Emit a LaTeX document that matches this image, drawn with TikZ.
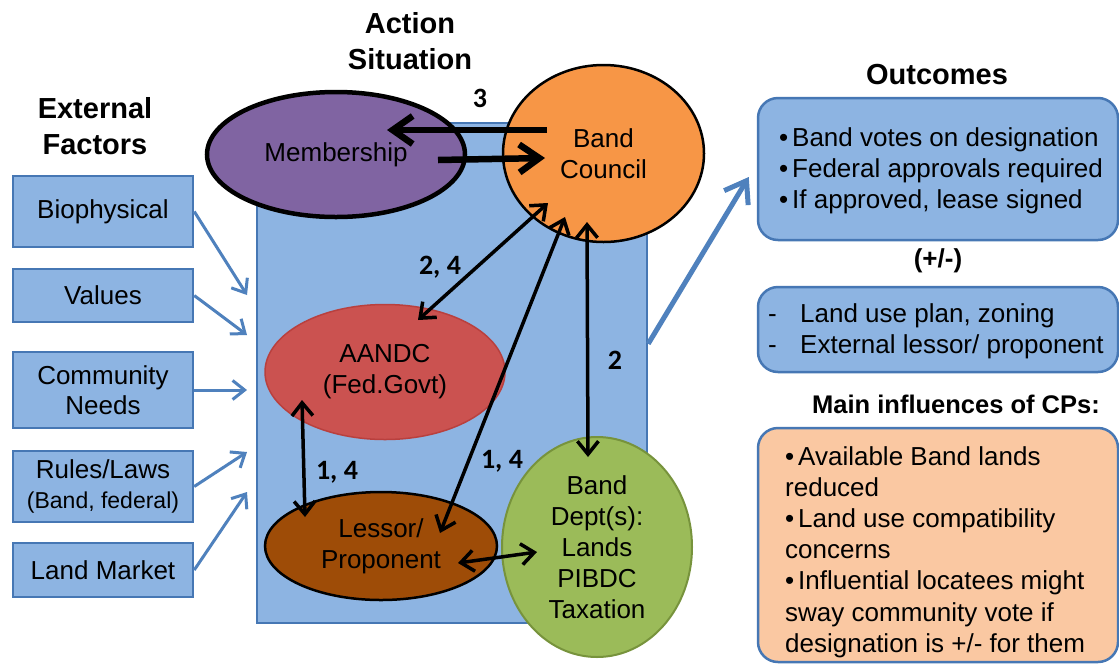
\documentclass[tikz,border=0pt]{standalone}
\usepackage{fontspec}
\setmainfont{Liberation Sans}
\newfontfamily\numfont{Carlito}
\usetikzlibrary{arrows.meta,shapes.geometric,calc}

\definecolor{panelblue}{HTML}{8DB4E2}
\definecolor{edgeblue}{HTML}{4677B4}
\definecolor{arrowblue}{HTML}{4F81BD}
\definecolor{memberpurple}{HTML}{8064A2}
\definecolor{councilorange}{HTML}{F79646}
\definecolor{fedred}{HTML}{CB5250}
\definecolor{fededge}{HTML}{B9403E}
\definecolor{lessorbrown}{HTML}{9E4C07}
\definecolor{deptgreen}{HTML}{9BBB59}
\definecolor{deptedge}{HTML}{77933C}
\definecolor{peach}{HTML}{FAC8A2}

\begin{document}
\begin{tikzpicture}[x=1pt,y=-1pt,
  txt/.style={font=\fontsize{26}{31.2}\selectfont, inner sep=0pt},
  heading/.style={font=\fontsize{29}{36}\selectfont\bfseries, align=center, inner sep=0pt},
  factor/.style={draw=edgeblue, line width=2.5pt, fill=panelblue, minimum width=180pt,
    inner sep=0pt, align=center, font=\fontsize{26}{30}\selectfont},
  actor/.style={ellipse, inner sep=0pt, align=center, font=\fontsize{26}{31}\selectfont},
  outbox/.style={draw=edgeblue, line width=2.5pt, rounded corners=20pt, minimum width=360pt, inner sep=0pt},
  feed/.style={draw=arrowblue, line width=3pt, -{Straight Barb[length=12pt,width=19pt]}},
  result/.style={draw=arrowblue, line width=5pt, -{Straight Barb[length=20pt,width=28pt]}},
  link/.style={line width=3.5pt, {Straight Barb[length=13pt,width=21pt]}-{Straight Barb[length=13pt,width=21pt]}},
  vote/.style={line width=6.5pt, -{Straight Barb[length=20pt,width=28pt]}},
  num/.style={font=\numfont\fontsize{28}{30}\selectfont\bfseries, inner sep=0pt}
]
% canvas
\fill[white] (0,0) rectangle (1119,665);
\useasboundingbox (0,0) rectangle (1119,665);

% headings
\node[heading] (tact) at (410,41) {Action\\Situation};
\node[heading] (text) at (95,126) {External\\Factors};
\node[heading] (tout) at (937,75) {Outcomes};

% action situation panel
\node[draw=edgeblue, line width=2.5pt, fill=panelblue, minimum width=390pt,
      minimum height=500pt, inner sep=0pt] (act) at (452,373) {};

% external factors
\node[factor, minimum height=71pt] (f1) at (103,211.5) {Biophysical};
\node[factor, minimum height=53pt] (f2) at (103,295.5) {Values};
\node[factor, minimum height=76pt] (f3) at (103,390) {Community\\Needs};
\node[factor, minimum height=71pt] (f4) at (103,486.5)
  {Rules/Laws\\{\fontsize{23}{27}\selectfont (Band, federal)}};
\node[factor, minimum height=54pt] (f5) at (103,570) {Land Market};

% actors
\node[actor, draw=black, line width=4.5pt, fill=memberpurple,
      minimum width=258pt, minimum height=125pt] (mem) at (336,154.5) {Membership};
\node[actor, draw=black, line width=2.5pt, fill=councilorange,
      minimum width=201pt, minimum height=177pt] (bc) at (603.5,153.5) {Band\\Council};
\node[actor, draw=fededge, line width=1.5pt, fill=fedred,
      minimum width=240pt, minimum height=135pt] (fed) at (385,372) {AANDC\\(Fed.Govt)};
\node[actor, draw=black, line width=2.5pt, fill=lessorbrown,
      minimum width=232pt, minimum height=108pt] (les) at (381,546) {Lessor/\\Proponent};
\node[actor, draw=deptedge, line width=2pt, fill=deptgreen,
      minimum width=190pt, minimum height=220pt] (dept) at (597,547)
  {Band\\Dept(s):\\Lands\\PIBDC\\Taxation};

% outcome boxes
\node[outbox, fill=panelblue, minimum height=142pt] (o1) at (938,169) {};
\node[outbox, fill=panelblue, minimum height=85pt] (o2) at (938,329.5) {};
\node[outbox, fill=peach, minimum height=234pt] (o3) at (938,545) {};

\node[txt, align=left, anchor=west] (o1t) at (779,171)
  {\makebox[13pt][l]{•}Band votes on designation\\
   \makebox[13pt][l]{•}Federal approvals required\\
   \makebox[13pt][l]{•}If approved, lease signed};
\node[txt, font=\fontsize{26}{31}\selectfont\bfseries] (pm) at (938,261) {(+/-)};
\node[txt, align=left, anchor=west] (o2t) at (768,331)
  {\makebox[32pt][l]{-}Land use plan, zoning\\
   \makebox[32pt][l]{-}External lessor/ proponent};
\node[txt, font=\fontsize{25.5}{31}\selectfont\bfseries] (cp) at (956,404) {Main influences of CPs:};
\node[txt, align=left, anchor=west] (o3t) at (785,552)
  {\makebox[12.5pt][l]{•}\hspace{0.5pt}Available Band lands\\
   reduced\\
   \makebox[12.5pt][l]{•}\hspace{0.5pt}Land use compatibility\\
   concerns\\
   \makebox[12.5pt][l]{•}\hspace{0.5pt}Influential locatees might\\
   sway community vote if\\
   designation is +/- for them};

% external factors feeding the action situation
\coordinate (in1) at (247,295);
\coordinate (in2) at (247,335);
\coordinate (in3) at (247,390);
\coordinate (in4) at (247,452);
\coordinate (in5) at (247,492);
\draw[feed] (f1.east) -- (in1);
\draw[feed] (f2.east) -- (in2);
\draw[feed] (f3.east) -- (in3);
\draw[feed] (f4.east) -- (in4);
\draw[feed] (f5.east) -- (in5);

% action situation to outcomes
\draw[result] ($(act.north east)+(0,222)$) -- ($(o1.west)+(-8,8)$);

% interactions among actors
\draw[vote] ($(bc.center)+(-56.5,-23.5)$) -- ($(mem.center)+(51,-24.5)$);
\draw[vote] ($(mem.center)+(102,5.5)$) -- ($(bc.center)+(-58.5,4.5)$);
\draw[link] ($(bc.center)+(-55.5,49.5)$) -- ($(fed.center)+(33,-52)$);
\draw[link] ($(bc.center)+(-38.5,63.5)$) -- ($(les.center)+(59,-13)$);
\draw[link] ($(bc.center)+(-16.5,68.5)$) -- ($(dept.center)+(-9,-90)$);
\draw[link] ($(fed.center)+(-83,28)$) -- ($(les.center)+(-76,-29)$);
\draw[link] ($(les.center)+(77,17)$) -- ($(dept.center)+(-60,5)$);

% interaction labels
\node[num] (n3) at (480,98) {3};
\node[num] (n24) at (440,267) {2, 4};
\node[num] (n14a) at (337,472) {1, 4};
\node[num] (n14b) at (502,461) {1, 4};
\node[num] (n2) at (615,360) {2};
\end{tikzpicture}
\end{document}
